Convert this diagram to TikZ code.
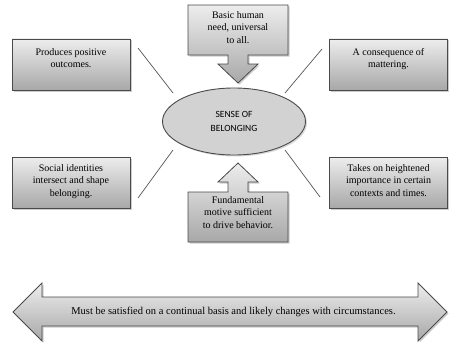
\documentclass[tikz,border=0pt]{standalone}
\usepackage{fontspec}
\setmainfont{Liberation Serif}
\newfontfamily\ellfont{Carlito}
\usetikzlibrary{shadows,shapes.geometric}
\definecolor{edgegray}{HTML}{4A4A4A}
\definecolor{linegray}{HTML}{555555}
\definecolor{gtop}{HTML}{EDEDED}
\definecolor{gbot}{HTML}{A8A8A8}
\definecolor{ellfill}{HTML}{D2D2D2}
\tikzset{
  shade3d/.style={top color=gtop, bottom color=gbot, draw=edgegray, line width=0.8pt,
    drop shadow={shadow xshift=1.5pt, shadow yshift=-1.5pt, opacity=0.4}},
  sidebox/.style={shade3d, rectangle, minimum width=118pt, minimum height=51pt, inner sep=0pt},
  boxtext/.style={font=\fontsize{10}{12.5}\selectfont, align=center, inner sep=0pt, text=black},
  spoke/.style={draw=linegray, line width=0.7pt},
}
\begin{document}
\begin{tikzpicture}[x=1pt,y=-1pt]
\useasboundingbox (0,0) rectangle (449,345);

% side boxes
\node[sidebox] (tl) at (71,64.5) {};
\node[sidebox] (tr) at (388.5,64.5) {};
\node[sidebox] (ml) at (71,182.5) {};
\node[sidebox] (mr) at (388.5,182.5) {};
\node[boxtext, anchor=north] (tltext) at (71,48) {Produces positive\\outcomes.};
\node[boxtext, anchor=north] (trtext) at (388.5,48) {A consequence of\\mattering.};
\node[boxtext, anchor=north] (mltext) at (71,164) {Social identities\\intersect and shape\\belonging.};
\node[boxtext, anchor=north] (mrtext) at (388.5,164) {Takes on heightened\\importance in certain\\contexts and times.};

% central ellipse
\node[ellipse, draw=edgegray, line width=0.9pt, fill=ellfill,
  minimum width=143pt, minimum height=67pt, inner sep=0pt,
  drop shadow={shadow xshift=1.5pt, shadow yshift=-1.5pt, opacity=0.3},
  font=\ellfont\fontsize{9.5}{13.5}\selectfont, text=black, align=center] (core) at (234,121.5) {SENSE OF\\BELONGING};

% top callout
\path[shade3d] (188,5) -- (288,5) -- (288,55) -- (248,55) -- (248,64) -- (258,64)
  -- (238,83) -- (218,64) -- (228,64) -- (228,55) -- (188,55) -- cycle;
\node[boxtext, anchor=north] (toptext) at (238,11) {Basic human\\need, universal\\to all.};

% bottom callout
\path[shade3d] (238,163) -- (258,182) -- (248,182) -- (248,192) -- (288,192) -- (288,242)
  -- (188,242) -- (188,192) -- (228,192) -- (228,182) -- (218,182) -- cycle;
\node[boxtext, anchor=north] (bottext) at (238,196) {Fundamental\\motive sufficient\\to drive behavior.};

% spokes
\coordinate (s1a) at (138,48); \coordinate (s1b) at (173,93);
\coordinate (s2a) at (322,49); \coordinate (s2b) at (285,93);
\coordinate (s3a) at (173,150); \coordinate (s3b) at (138,198);
\coordinate (s4a) at (285,150); \coordinate (s4b) at (320,197);
\draw[spoke] (s1a) -- (s1b);
\draw[spoke] (s2a) -- (s2b);
\draw[spoke] (s3a) -- (s3b);
\draw[spoke] (s4a) -- (s4b);

% big double arrow
\path[shade3d] (13,312) -- (42,283) -- (42,297) -- (418,297) -- (418,283) -- (447,312)
  -- (418,341) -- (418,326) -- (42,326) -- (42,341) -- cycle;
\node[boxtext, font=\fontsize{10.5}{12.5}\selectfont] (bartext) at (233.5,311.5)
  {Must be satisfied on a continual basis and likely changes with circumstances.};
\end{tikzpicture}
\end{document}
